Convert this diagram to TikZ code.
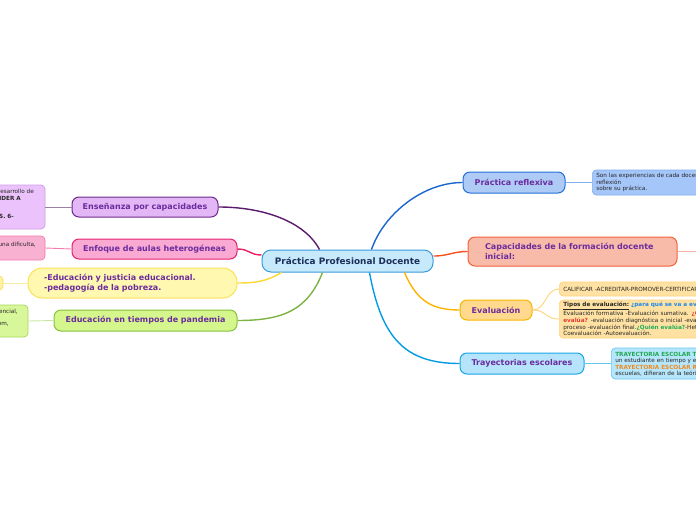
\documentclass[tikz,border=0pt]{standalone}
\usepackage{fontspec}
\setmainfont{DejaVu Sans}
\usetikzlibrary{calc}
\definecolor{purp}{HTML}{6B2C9E}
\definecolor{navy}{HTML}{1C2E5A}
\definecolor{cfill}{HTML}{C6EAFC}\definecolor{cdraw}{HTML}{3A9AD9}
\definecolor{prfill}{HTML}{AECBF5}\definecolor{prdraw}{HTML}{2270D8}\definecolor{prline}{HTML}{1A66CC}
\definecolor{prlfill}{HTML}{A5C6F9}\definecolor{prldraw}{HTML}{7FB0EE}
\definecolor{capfill}{HTML}{F8BBA9}\definecolor{capdraw}{HTML}{F4623A}\definecolor{capline}{HTML}{F4511E}\definecolor{caplline}{HTML}{F7B5A2}
\definecolor{evfill}{HTML}{FFD98E}\definecolor{evdraw}{HTML}{F8B500}\definecolor{evline}{HTML}{FFB300}
\definecolor{evlfill}{HTML}{FFE2A3}\definecolor{evldraw}{HTML}{FFD27A}
\definecolor{trfill}{HTML}{B5E4FB}\definecolor{trdraw}{HTML}{19A6E8}\definecolor{trline}{HTML}{039BE5}
\definecolor{trlfill}{HTML}{B6E6FB}\definecolor{trldraw}{HTML}{66C6F0}
\definecolor{enfill}{HTML}{E3B6F5}\definecolor{endraw}{HTML}{6C2A8A}\definecolor{enline}{HTML}{5C1A6E}
\definecolor{enlfill}{HTML}{EBC2FB}\definecolor{enldraw}{HTML}{CF9BEA}\definecolor{enlline}{HTML}{9A7FA8}
\definecolor{eofill}{HTML}{F9A9D2}\definecolor{eodraw}{HTML}{E5226F}\definecolor{eoline}{HTML}{E91E63}
\definecolor{eolfill}{HTML}{F9B1D2}\definecolor{eoldraw}{HTML}{F27AAF}
\definecolor{edfill}{HTML}{FFF8B0}\definecolor{eddraw}{HTML}{FBE15A}\definecolor{edline}{HTML}{FDD835}
\definecolor{edlfill}{HTML}{FFF3A0}\definecolor{edldraw}{HTML}{F5DC60}\definecolor{edlline}{HTML}{F8EC9A}
\definecolor{pafill}{HTML}{D5F68C}\definecolor{padraw}{HTML}{86C13A}\definecolor{paline}{HTML}{7CB342}
\definecolor{palfill}{HTML}{D8F79A}\definecolor{paldraw}{HTML}{A6D65A}\definecolor{palline}{HTML}{C8E6A0}
\definecolor{evblue}{HTML}{1E88E5}\definecolor{evred}{HTML}{E53935}\definecolor{evgreen}{HTML}{1FAE5A}
\definecolor{trgreen}{HTML}{1FA84F}\definecolor{trorange}{HTML}{F08A1C}
\tikzset{
  mainbox/.style={rounded corners=7pt, line width=1pt, inner sep=0pt, text=purp,
    font=\bfseries\fontsize{8}{9.5}\selectfont, align=center},
  leafbox/.style={rounded corners=4pt, line width=0.7pt, inner xsep=4pt, inner ysep=0pt,
    font=\fontsize{5.7}{6.7}\selectfont, align=left, anchor=west, text=black!85},
  conn/.style={line width=1.4pt},
  leafconn/.style={line width=0.9pt},
  frag/.style={font=\fontsize{5.7}{6.7}\selectfont, inner sep=0pt, anchor=east, text=black!85}
}
\begin{document}
\begin{tikzpicture}[x=1pt,y=-1pt]
\useasboundingbox (0,0) rectangle (696,520);
\clip (0,0) rectangle (696,520);

% central
\node[mainbox, rounded corners=9pt, fill=cfill, draw=cdraw, text=navy,
  font=\bfseries\fontsize{8.9}{10}\selectfont, minimum width=171pt, minimum height=22pt] (c) at (347.5,261) {Práctica Profesional Docente};

% right branches
\node[mainbox, fill=prfill, draw=prdraw, minimum width=102pt, minimum height=21pt] (pr) at (514,182.5) {Práctica reflexiva};
\node[leafbox, fill=prlfill, draw=prldraw, minimum height=25pt, text width=130pt, font=\fontsize{5.7}{6.4}\selectfont] (prl) at (592,182.5) {Son las experiencias de cada docente\\reflexión\\sobre su práctica.};

\node[mainbox, fill=capfill, draw=capdraw, minimum height=29pt, inner xsep=17pt, text width=175pt, align=left] (cap) at (572.5,251.5) {Capacidades de la formación docente\\inicial:};
\coordinate (capend) at (700,251.5);

\node[mainbox, fill=evfill, draw=evdraw, minimum width=72pt, minimum height=20pt] (ev) at (496,310) {Evaluación};
\node[leafbox, fill=evlfill, draw=evldraw, minimum height=14pt, text width=180pt] (evl1) at (559,289) {CALIFICAR -ACREDITAR-PROMOVER-CERTIFICAR};
\node[leafbox, fill=evlfill, draw=evldraw, minimum height=38pt, text width=200pt, font=\fontsize{5.7}{6.9}\selectfont] (evl2) at (559,319) {\underline{\textbf{Tipos de evaluación:}} \textcolor{evblue}{\textbf{¿para qué se va a evaluar?}}\\Evaluación formativa -Evaluación sumativa. \textcolor{evred}{\textbf{¿Cuándo se}}\\\textcolor{evred}{\textbf{evalúa?}} -evaluación diagnóstica o inicial -evaluación de\\proceso -evaluación final.\textcolor{evgreen}{\textbf{¿Quién evalúa?}}-Heteroevaluación\\Coevaluación -Autoevaluación.};

\node[mainbox, fill=trfill, draw=trdraw, minimum width=124pt, minimum height=21pt] (tr) at (522,363.5) {Trayectorias escolares};
\node[leafbox, fill=trlfill, draw=trldraw, minimum height=31pt, text width=150pt, font=\fontsize{5.7}{6.4}\selectfont] (trl) at (611,363.5) {\textcolor{trgreen}{\textbf{TRAYECTORIA ESCOLAR TEÓRICA}}\\un estudiante en tiempo y espacio\\\textcolor{trorange}{\textbf{TRAYECTORIA ESCOLAR REAL}}\\escuelas, difieran de la teórica};

% left branches
\node[mainbox, fill=enfill, draw=endraw, minimum width=146pt, minimum height=20pt] (en) at (145,207) {Enseñanza por capacidades};
\node[leafbox, anchor=center, fill=enlfill, draw=enldraw, minimum width=70pt, minimum height=44pt] (enl) at (10,207) {};
\node[frag] (enl1) at (34,191) {desarrollo de};
\node[frag, font=\bfseries\fontsize{5.7}{6.7}\selectfont] (enl2) at (21,198.5) {NDER A};
\node[frag, font=\bfseries\fontsize{5.7}{6.7}\selectfont] (enl3) at (14,216.5) {S. 6-};

\node[mainbox, fill=eofill, draw=eodraw, minimum width=165pt, minimum height=20pt] (eo) at (154.5,249) {Enfoque de aulas heterogéneas};
\node[leafbox, anchor=center, fill=eolfill, draw=eoldraw, minimum width=70pt, minimum height=24pt] (eol) at (10,248) {};
\node[frag] (eol1) at (36,244.5) {iguna dificulta,};

\node[mainbox, rounded corners=14pt, fill=edfill, draw=eddraw, minimum height=30pt, inner xsep=16pt, text width=177pt, align=left] (ed) at (132.5,283) {-Educación y justicia educacional.\\-pedagogía de la pobreza.};
\node[leafbox, anchor=center, fill=edlfill, draw=edldraw, minimum width=30pt, minimum height=14pt] (edl) at (-12,283) {};

\node[mainbox, fill=pafill, draw=padraw, minimum width=183pt, minimum height=21pt] (pa) at (145.5,320.5) {Educación en tiempos de pandemia};
\node[leafbox, anchor=center, fill=palfill, draw=paldraw, minimum width=70pt, minimum height=32pt] (pal) at (-7,321) {};
\node[frag] (pal1) at (18,311.5) {esencial,};
\node[frag] (pal2) at (9,324) {om,};

% main connectors
\draw[conn, prline] ($(c.north)+(24,0)$) .. controls +(12,-35) and +(-40,0) .. (pr.west);
\draw[conn, capline] ($(c.east)+(0,-5)$) .. controls +(15,0) and +(-15,0) .. (cap.west);
\draw[conn, evline] ($(c.south)+(57,0)$) .. controls +(12,28) and +(-28,0) .. (ev.west);
\draw[conn, trline] ($(c.south)+(22,0)$) .. controls +(12,65) and +(-55,0) .. (tr.west);
\draw[conn, enline] ($(c.north)+(-28,0)$) .. controls +(-15,-28) and +(45,0) .. (en.east);
\draw[conn, eoline] ($(c.west)+(0,-6)$) .. controls +(-12,0) and +(12,0) .. (eo.east);
\draw[conn, edline] ($(c.south)+(-66,0)$) .. controls +(-15,9) and +(18,0) .. (ed.east);
\draw[conn, paline] ($(c.south)+(-25,0)$) .. controls +(-15,38) and +(45,0) .. (pa.east);

% leaf connectors
\draw[leafconn, prldraw] (pr.east) -- (prl.west);
\draw[leafconn, caplline] (cap.east) -- (capend);
\draw[leafconn, evldraw] (ev.east) .. controls +(14,0) and +(-14,0) .. (evl1.west);
\draw[leafconn, evldraw] (ev.east) .. controls +(14,0) and +(-14,0) .. (evl2.west);
\draw[leafconn, trldraw] (tr.east) -- (trl.west);
\draw[leafconn, enlline] (enl.east) -- (en.west);
\draw[leafconn, eoldraw] (eol.east) -- (eo.west);
\draw[leafconn, edlline] (edl.east) -- (ed.west);
\draw[leafconn, palline] (pal.east) -- (pa.west);
\end{tikzpicture}
\end{document}
